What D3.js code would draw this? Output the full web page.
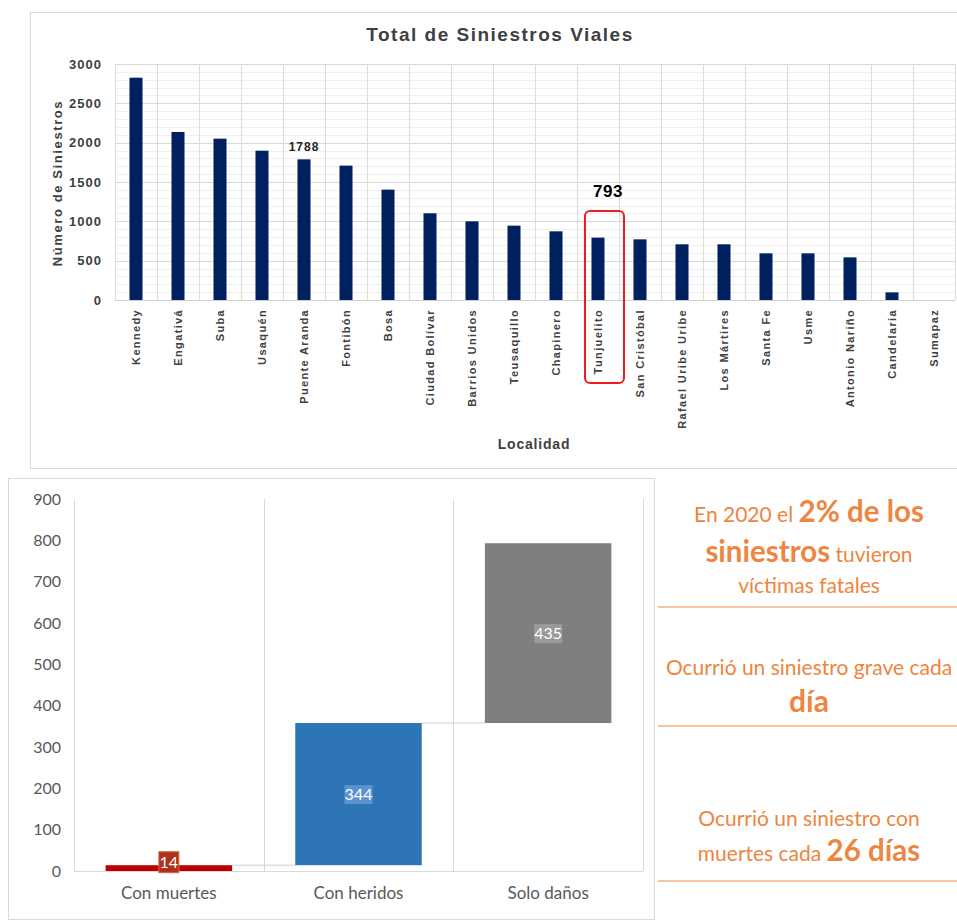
<!DOCTYPE html>
<html>
<head>
<meta charset="utf-8">
<script src="https://cdn.jsdelivr.net/npm/d3@7"></script>
<style>
  body { margin: 0; background: #fff; }
  svg { display: block; }
</style>
</head>
<body>
<div class="chart-box"></div>
<script>
// datos: siniestros por localidad
const localidades = ["Kennedy", "Engativá", "Suba", "Usaquén", "Puente Aranda", "Fontibón", "Bosa",
  "Ciudad Bolívar", "Barrios Unidos", "Teusaquillo", "Chapinero", "Tunjuelito", "San Cristóbal",
  "Rafael Uribe Uribe", "Los Mártires", "Santa Fe", "Usme", "Antonio Nariño", "Candelaria", "Sumapaz"];
const siniestros = [2826, 2136, 2051, 1898, 1788, 1708, 1403, 1102, 1000, 945, 873, 793, 771,
  708, 708, 593, 593, 542, 97, 0];
const etiquetadas = ["Puente Aranda", "Tunjuelito"];
const ticksTop = [0, 500, 1000, 1500, 2000, 2500, 3000];

// datos: cascada por gravedad
const tipos = ["Con muertes", "Con heridos", "Solo daños"];
const tipoValores = [14, 344, 435];
const tipoColores = ["#C00000", "#2E75B6", "#7F7F7F"];
const tipoEtiquetaFondo = ["#b0301c", "#5b93cf", "#9a9a9a"];
const ticksBot = [0, 100, 200, 300, 400, 500, 600, 700, 800, 900];

const width = 957, height = 922;
const arial = "Arial, 'Liberation Sans', sans-serif";
const calibri = "Lato, 'Open Sans', sans-serif";

const svg = d3.select(".chart-box").append("svg")
  .attr("width", width)
  .attr("height", height);

// ---------- grafico superior ----------
const gTop = svg.append("g");

gTop.append("rect")
  .attr("x", 30.5).attr("y", 12.5)
  .attr("width", 940).attr("height", 456)
  .attr("fill", "none").attr("stroke", "#d9d9d9");

const xTop = d3.scaleBand()
  .domain(localidades)
  .range([115, 955])
  .paddingInner(0.69)
  .paddingOuter(0.345);

const yTop = d3.scaleLinear()
  .domain([0, 3000])
  .range([300, 64]);

// grid horizontal (menor cada 100)
gTop.append("g")
  .selectAll("line")
  .data(d3.range(100, 3001, 100))
  .join("line")
  .attr("x1", 115).attr("x2", 955)
  .attr("y1", d => Math.round(yTop(d)) + 0.5)
  .attr("y2", d => Math.round(yTop(d)) + 0.5)
  .attr("stroke", d => d % 500 === 0 ? "#d9d9d9" : "#efefef");

// grid vertical
const step = xTop.step();
gTop.append("g")
  .selectAll("line")
  .data(localidades.map(d => xTop(d) + xTop.bandwidth() / 2 - step / 2).concat([955]))
  .join("line")
  .attr("x1", d => Math.round(d) + 0.5).attr("x2", d => Math.round(d) + 0.5)
  .attr("y1", yTop(3000)).attr("y2", yTop(0))
  .attr("stroke", "#dcdcdc");

gTop.append("line")
  .attr("x1", 115).attr("x2", 955)
  .attr("y1", yTop(0) + 0.5).attr("y2", yTop(0) + 0.5)
  .attr("stroke", "#d0d0d0");

gTop.append("g")
  .selectAll("rect")
  .data(localidades)
  .join("rect")
  .attr("x", d => xTop(d))
  .attr("width", xTop.bandwidth())
  .attr("y", (d, i) => yTop(siniestros[i]))
  .attr("height", (d, i) => yTop(0) - yTop(siniestros[i]))
  .attr("fill", "#002060");

const yAxisTop = gTop.append("g")
  .attr("transform", "translate(115,0)")
  .call(d3.axisLeft(yTop).tickValues(ticksTop).tickFormat(d3.format("d")).tickSize(0).tickPadding(13));
yAxisTop.select(".domain").remove();
yAxisTop.selectAll("text")
  .attr("font-family", arial)
  .attr("font-weight", "bold")
  .attr("font-size", 13)
  .attr("letter-spacing", 1)
  .attr("fill", "#404040");

const xAxisTop = gTop.append("g")
  .attr("transform", "translate(0,300)")
  .call(d3.axisBottom(xTop).tickSize(0));
xAxisTop.select(".domain").remove();
xAxisTop.selectAll("text")
  .attr("transform", "rotate(-90)")
  .attr("text-anchor", "end")
  .attr("x", -9)
  .attr("y", 0)
  .attr("dy", "0.35em")
  .attr("font-family", arial)
  .attr("font-weight", "bold")
  .attr("font-size", 11)
  .attr("letter-spacing", 1.35)
  .attr("fill", "#404040");

// etiquetas de valor
gTop.append("g")
  .selectAll("text")
  .data(etiquetadas)
  .join("text")
  .attr("x", d => xTop(d) + xTop.bandwidth() / 2 + (d === "Tunjuelito" ? 10 : 0))
  .attr("y", d => d === "Tunjuelito" ? 197 : yTop(siniestros[localidades.indexOf(d)]) - 8)
  .attr("text-anchor", "middle")
  .attr("font-family", arial)
  .attr("font-weight", "bold")
  .attr("font-size", d => d === "Tunjuelito" ? 17 : 12)
  .attr("letter-spacing", d => d === "Tunjuelito" ? 0.5 : 1)
  .attr("fill", d => d === "Tunjuelito" ? "#000" : "#262626")
  .text(d => siniestros[localidades.indexOf(d)]);

// recuadro resaltado
gTop.append("rect")
  .attr("x", xTop("Tunjuelito") - 6.5)
  .attr("y", 211)
  .attr("width", 39)
  .attr("height", 172)
  .attr("rx", 5)
  .attr("fill", "none")
  .attr("stroke", "#ee1c1c")
  .attr("stroke-width", 2);

gTop.append("text")
  .attr("x", 500).attr("y", 41)
  .attr("text-anchor", "middle")
  .attr("font-family", arial)
  .attr("font-weight", "bold")
  .attr("font-size", 19)
  .attr("letter-spacing", 1.5)
  .attr("fill", "#404040")
  .text("Total de Siniestros Viales");

gTop.append("text")
  .attr("transform", "translate(62,183) rotate(-90)")
  .attr("text-anchor", "middle")
  .attr("font-family", arial)
  .attr("font-weight", "bold")
  .attr("font-size", 13)
  .attr("letter-spacing", 1.6)
  .attr("fill", "#404040")
  .text("Número de Siniestros");

gTop.append("text")
  .attr("x", 534).attr("y", 449)
  .attr("text-anchor", "middle")
  .attr("font-family", arial)
  .attr("font-weight", "bold")
  .attr("font-size", 14)
  .attr("letter-spacing", 0.8)
  .attr("fill", "#404040")
  .text("Localidad");

// ---------- grafico inferior (cascada) ----------
const gBot = svg.append("g");

gBot.append("rect")
  .attr("x", 8.5).attr("y", 478.5)
  .attr("width", 646).attr("height", 441)
  .attr("fill", "none").attr("stroke", "#d9d9d9");

const xBot = d3.scaleBand()
  .domain(tipos)
  .range([74, 643])
  .paddingInner(0.333)
  .paddingOuter(0.1667);

const yBot = d3.scaleLinear()
  .domain([0, 900])
  .range([871, 499]);

const fin = d3.cumsum(tipoValores);
const inicio = fin.map((d, i) => d - tipoValores[i]);

const stepB = xBot.step();
gBot.append("g")
  .selectAll("line")
  .data(tipos.map(d => xBot(d) + xBot.bandwidth() / 2 - stepB / 2).concat([643]))
  .join("line")
  .attr("x1", d => Math.round(d) + 0.5).attr("x2", d => Math.round(d) + 0.5)
  .attr("y1", yBot(900)).attr("y2", yBot(0))
  .attr("stroke", "#d9d9d9");

gBot.append("line")
  .attr("x1", 74).attr("x2", 643)
  .attr("y1", yBot(0) + 0.5).attr("y2", yBot(0) + 0.5)
  .attr("stroke", "#d9d9d9");

// conectores
gBot.append("g")
  .selectAll("line")
  .data(tipos.slice(0, -1))
  .join("line")
  .attr("x1", d => xBot(d) + xBot.bandwidth())
  .attr("x2", (d, i) => xBot(tipos[i + 1]))
  .attr("y1", (d, i) => yBot(fin[i]))
  .attr("y2", (d, i) => yBot(fin[i]))
  .attr("stroke", "#cfcfcf");

gBot.append("g")
  .selectAll("rect")
  .data(tipos)
  .join("rect")
  .attr("x", d => xBot(d))
  .attr("width", xBot.bandwidth())
  .attr("y", (d, i) => yBot(fin[i]))
  .attr("height", (d, i) => yBot(inicio[i]) - yBot(fin[i]))
  .attr("fill", (d, i) => tipoColores[i]);

const yAxisBot = gBot.append("g")
  .attr("transform", "translate(74,0)")
  .call(d3.axisLeft(yBot).tickValues(ticksBot).tickSize(0).tickPadding(13));
yAxisBot.select(".domain").remove();
yAxisBot.selectAll("text")
  .attr("font-family", calibri)
  .attr("font-size", 16)
  .attr("fill", "#595959");

const xAxisBot = gBot.append("g")
  .attr("transform", "translate(0,871)")
  .call(d3.axisBottom(xBot).tickSize(0).tickPadding(16));
xAxisBot.select(".domain").remove();
xAxisBot.selectAll("text")
  .attr("font-family", calibri)
  .attr("font-size", 17)
  .attr("fill", "#595959");

// etiquetas de datos
const etq = gBot.append("g")
  .selectAll("g")
  .data(tipos)
  .join("g")
  .attr("transform", (d, i) => {
    const cy = i === 0 ? yBot(fin[i]) - 3 : (yBot(inicio[i]) + yBot(fin[i])) / 2;
    return "translate(" + (xBot(d) + xBot.bandwidth() / 2) + "," + cy + ")";
  });

etq.append("rect")
  .attr("x", (d, i) => i === 0 ? -10 : -14)
  .attr("y", (d, i) => i === 0 ? -10.5 : -9)
  .attr("width", (d, i) => i === 0 ? 20 : 28)
  .attr("height", (d, i) => i === 0 ? 21 : 19)
  .attr("fill", (d, i) => tipoEtiquetaFondo[i])
  .attr("stroke", (d, i) => i === 0 ? "#c8703a" : "none");

etq.append("text")
  .attr("text-anchor", "middle")
  .attr("dy", "0.36em")
  .attr("font-family", calibri)
  .attr("font-size", 16)
  .attr("fill", "#fff")
  .text((d, i) => tipoValores[i]);

// ---------- panel de texto ----------
const naranja = "#EE8540";
const panel = svg.append("g")
  .attr("font-family", calibri)
  .attr("fill", naranja)
  .attr("text-anchor", "middle");

const lineas = [
  {y: 522, partes: [["En 2020 el ", 21, 400], ["2% de los", 29.5, 700]]},
  {y: 562, partes: [["siniestros", 29.5, 700], [" tuvieron", 21, 400]]},
  {y: 593, partes: [["víctimas fatales", 21, 400]]},
  {y: 675, partes: [["Ocurrió un siniestro grave cada", 21, 400]]},
  {y: 712, partes: [["día", 30, 700]]},
  {y: 826, partes: [["Ocurrió un siniestro con", 21, 400]]},
  {y: 861, partes: [["muertes cada ", 21, 400], ["26 días", 29.5, 700]]}
];

lineas.forEach(l => {
  const t = panel.append("text").attr("x", 809).attr("y", l.y);
  l.partes.forEach(p => {
    t.append("tspan")
      .attr("font-size", p[1])
      .attr("font-weight", p[2])
      .text(p[0]);
  });
});

panel.append("g")
  .selectAll("line")
  .data([607, 726, 881])
  .join("line")
  .attr("x1", 658).attr("x2", 957)
  .attr("y1", d => d).attr("y2", d => d)
  .attr("stroke", "#F4B183")
  .attr("stroke-width", 1.5);
</script>
</body>
</html>
